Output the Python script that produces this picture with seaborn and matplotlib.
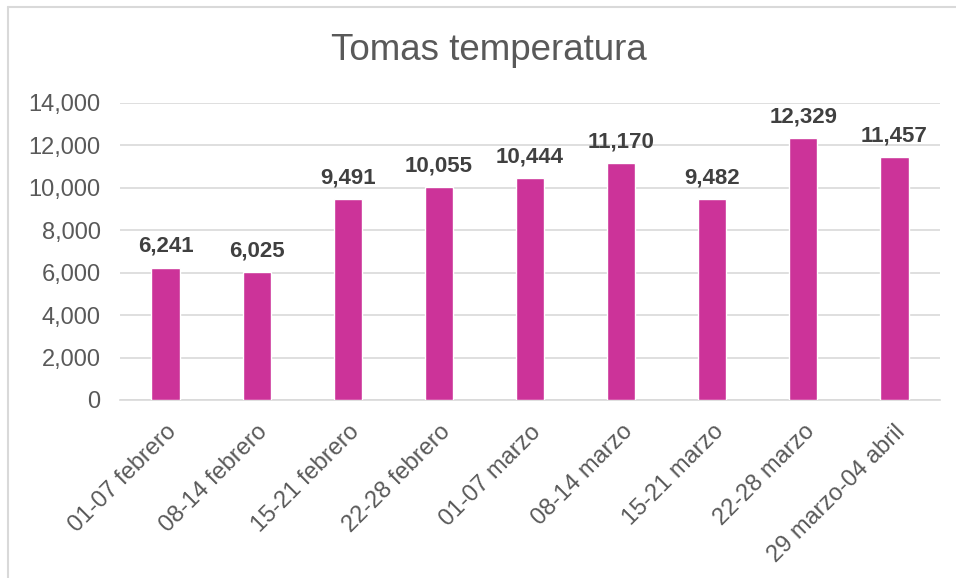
import matplotlib
matplotlib.use("Agg")
import matplotlib.pyplot as plt
import seaborn as sns
import pandas as pd
from matplotlib.lines import Line2D
from matplotlib.ticker import FuncFormatter

semanas = ['01-07 febrero', '08-14 febrero', '15-21 febrero', '22-28 febrero',
           '01-07 marzo', '08-14 marzo', '15-21 marzo', '22-28 marzo',
           '29 marzo-04 abril']
tomas = [6241, 6025, 9491, 10055, 10444, 11170, 9482, 12329, 11457]

data = pd.DataFrame({'Semana': semanas, 'Tomas': tomas})

sns.set_theme(style='white')
plt.rcParams['font.family'] = ['Liberation Sans', 'DejaVu Sans']
gris = '#595959'

fig = plt.figure(figsize=(9.56, 5.78), dpi=100)
ax = fig.add_axes([120 / 956, 1 - 400 / 578, 820 / 956, 297 / 578])

sns.barplot(data=data, x='Semana', y='Tomas', color='#CC3399', width=0.31,
            saturation=1, ax=ax, zorder=3)

ax.set_ylim(0, 14000)
ax.set_yticks(range(0, 14001, 2000))
ax.yaxis.set_major_formatter(FuncFormatter(lambda v, p: f'{int(v):,}'))
ax.grid(axis='y', color='#D9D9D9', linewidth=1.2, zorder=0)
for s in ['top', 'right', 'left']:
    ax.spines[s].set_visible(False)
ax.spines['bottom'].set_color('#D9D9D9')
ax.spines['bottom'].set_linewidth(1.2)
ax.set_xlabel('')
ax.set_ylabel('')
ax.tick_params(axis='y', labelsize=17, colors=gris, length=0, pad=14)
ax.tick_params(axis='x', labelsize=17, colors=gris, length=0, pad=15)
plt.setp(ax.get_xticklabels(), rotation=45, ha='right', rotation_mode='anchor')

for i, v in enumerate(tomas):
    ax.text(i, v + 500, f'{v:,}', ha='center', va='bottom', fontsize=16,
            fontweight='bold', color='#404040')

fig.text(489 / 956, 1 - 50 / 578, 'Tomas temperatura', ha='center', va='center',
         fontsize=26.5, color=gris)

fig.add_artist(Line2D([8 / 956, 1], [1 - 7 / 578, 1 - 7 / 578], color='#D9D9D9', lw=1.5))
fig.add_artist(Line2D([8 / 956, 8 / 956], [0, 1 - 7 / 578], color='#D9D9D9', lw=1.5))

fig.savefig('out.png', dpi=100, facecolor='white')
